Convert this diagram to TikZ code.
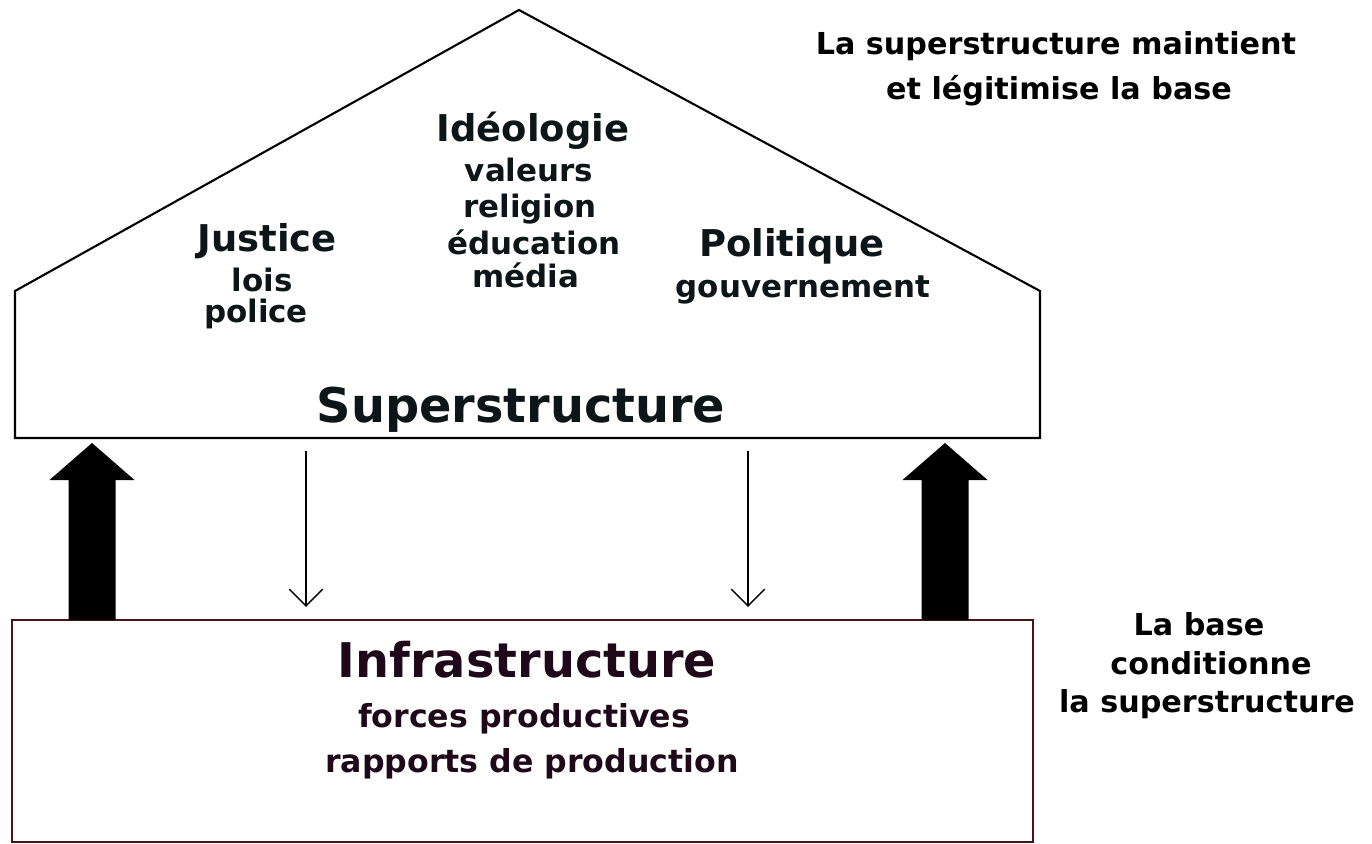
\documentclass[tikz,border=0pt]{standalone}
\usepackage{fontspec}
\setmainfont{DejaVu Sans}
\usetikzlibrary{arrows.meta}
\definecolor{txt}{RGB}{12,22,24}
\definecolor{infratxt}{RGB}{30,8,26}
\definecolor{infraline}{RGB}{72,22,22}
\begin{document}
\begin{tikzpicture}[x=0.02cm,y=-0.02cm,
  lbl/.style={font=\bfseries\fontsize{17.6}{20}\selectfont, text=txt, anchor=base, inner sep=0pt},
  headlbl/.style={font=\bfseries\fontsize{21}{24}\selectfont, text=txt, anchor=base, inner sep=0pt},
  biglbl/.style={font=\bfseries\fontsize{27.2}{30}\selectfont, text=txt, anchor=base, inner sep=0pt},
  infbig/.style={biglbl, text=infratxt},
  inflbl/.style={font=\bfseries\fontsize{18}{20}\selectfont, text=infratxt, anchor=base, inner sep=0pt},
  sidelbl/.style={font=\bfseries\fontsize{17.2}{20}\selectfont, text=black, anchor=base, inner sep=0pt},
  outline/.style={line width=1.2pt, line join=miter, draw=black},
  infraoutline/.style={line width=1.1pt, draw=infraline},
  thinarrow/.style={line width=0.8pt, -{Straight Barb[length=9.6pt,width=19pt]}},
  bigarrow/.pic={\fill[black] (-23.5,0) -- (-23.5,-140) -- (-42.5,-140) -- (0,-177) -- (42.5,-140) -- (23.5,-140) -- (23.5,0) -- cycle;}
]
\useasboundingbox (0,0) rectangle (1372,844);

% house (superstructure)
\coordinate (apex) at (519,10);
\coordinate (eaveL) at (15,291);
\coordinate (eaveR) at (1040,291);
\coordinate (baseL) at (15,438);
\coordinate (baseR) at (1040,438);
\draw[outline] (apex) -- (eaveR) -- (baseR) -- (baseL) -- (eaveL) -- cycle;

% infrastructure box
\coordinate (infNW) at (12,620);
\coordinate (infSE) at (1033,842);
\draw[infraoutline] (infNW) rectangle (infSE);

% thick arrows (base conditions superstructure)
\pic at (92,620) {bigarrow};
\pic at (945,620) {bigarrow};

% thin arrows (superstructure maintains base)
\coordinate (dL1) at (306,451);
\coordinate (dL2) at (306,607);
\coordinate (dR1) at (748,451);
\coordinate (dR2) at (748,607);
\draw[thinarrow] (dL1) -- (dL2);
\draw[thinarrow] (dR1) -- (dR2);

% superstructure texts
\node[headlbl] (ideo) at (533,142) {Idéologie};
\node[lbl] (val) at (529,182) {valeurs};
\node[lbl] (rel) at (530,218) {religion};
\node[lbl] (edu) at (534,255) {éducation};
\node[lbl] (med) at (526,288) {média};
\node[headlbl] (just) at (267,252) {Justice};
\node[lbl] (lois) at (262,292) {lois};
\node[lbl] (pol) at (256,323) {police};
\node[headlbl] (polit) at (792,257) {Politique};
\node[lbl] (gouv) at (803,298) {gouvernement};
\node[biglbl] (super) at (521,422) {Superstructure};

% infrastructure texts
\node[infbig] (infra) at (527,677) {Infrastructure};
\node[inflbl] (forces) at (524,727) {forces productives};
\node[inflbl] (rapports) at (532,772) {rapports de production};

% side texts
\node[sidelbl] (s1) at (1056,55) {La superstructure maintient};
\node[sidelbl] (s2) at (1059,100) {et légitimise la base};
\node[sidelbl] (b1) at (1199,635) {La base};
\node[sidelbl] (b2) at (1211,674) {conditionne};
\node[sidelbl] (b3) at (1207,712) {la superstructure};
\end{tikzpicture}
\end{document}
